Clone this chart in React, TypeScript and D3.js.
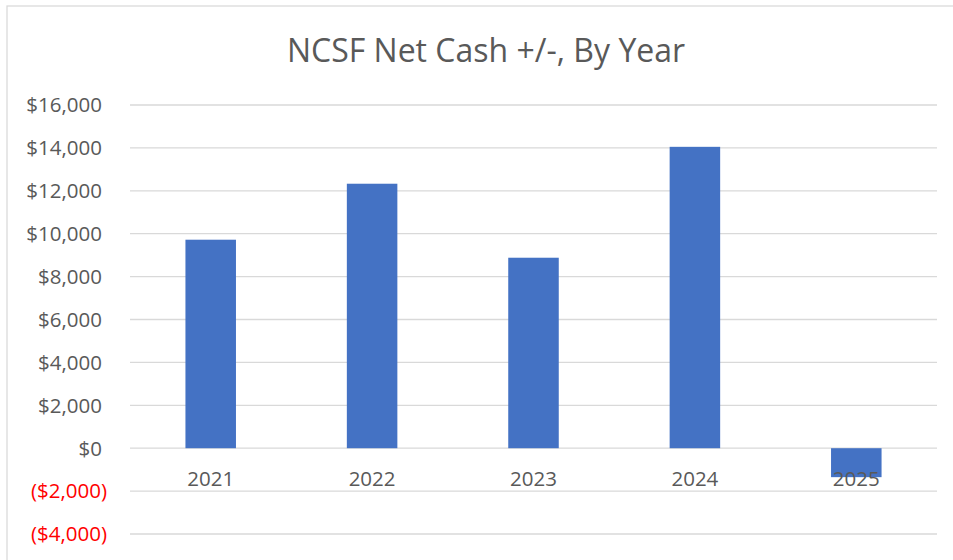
import React from 'react'
import * as d3 from 'd3'

const years = ['2021', '2022', '2023', '2024', '2025']
const netCash = [9720, 12330, 8880, 14050, -1350]
const yTicks = [-4000, -2000, 0, 2000, 4000, 6000, 8000, 10000, 12000, 14000, 16000]

const W = 953
const H = 560
const margin = { top: 105, right: 16, bottom: 26, left: 130 }

const fmt = (v: number) => {
  const s = '$' + d3.format(',')(Math.abs(v))
  return v < 0 ? `(${s})` : s
}

export default function App() {
  const x = d3.scaleBand()
    .domain(years)
    .range([margin.left, W - margin.right])
    .paddingInner(0.687)
    .paddingOuter(0.3435)

  const y = d3.scaleLinear()
    .domain([-4000, 16000])
    .range([534, 105])

  const font = '"Open Sans", sans-serif'

  return (
    <div style={{ position: 'absolute', left: 0, top: 0 }}>
      <svg width={W} height={H} style={{ display: 'block' }}>
        <rect x={0} y={0} width={W} height={H} fill="#fff" />
        {/* chart frame */}
        <rect x={7} y={6} width={W + 20} height={H + 20} fill="#fff" stroke="#D9D9D9" strokeWidth={1.25} />

        <text x={486} y={62} textAnchor="middle" fontFamily={font} fontSize={32} fill="#595959">
          NCSF Net Cash +/-, By Year
        </text>

        {/* gridlines */}
        {yTicks.map(t => (
          <line key={t} x1={margin.left} x2={W - margin.right} y1={y(t)} y2={y(t)} stroke="#D9D9D9" strokeWidth={1.3} />
        ))}

        {/* y labels */}
        {yTicks.map(t => (
          <text key={t} x={t < 0 ? 107 : 102} y={y(t)} dy="0.36em" textAnchor="end"
            fontFamily={font} fontSize={20.5} fill={t < 0 ? '#FF0000' : '#595959'}>
            {fmt(t)}
          </text>
        ))}

        {/* bars */}
        {years.map((yr, i) => (
          <rect key={yr}
            x={x(yr)}
            y={y(Math.max(0, netCash[i]))}
            width={x.bandwidth()}
            height={Math.abs(y(netCash[i]) - y(0))}
            fill="#4472C4" />
        ))}

        {/* x labels */}
        {years.map(yr => (
          <text key={yr} x={(x(yr) ?? 0) + x.bandwidth() / 2} y={486} textAnchor="middle"
            fontFamily={font} fontSize={20.5} fill="#595959">
            {yr}
          </text>
        ))}
      </svg>
    </div>
  )
}
